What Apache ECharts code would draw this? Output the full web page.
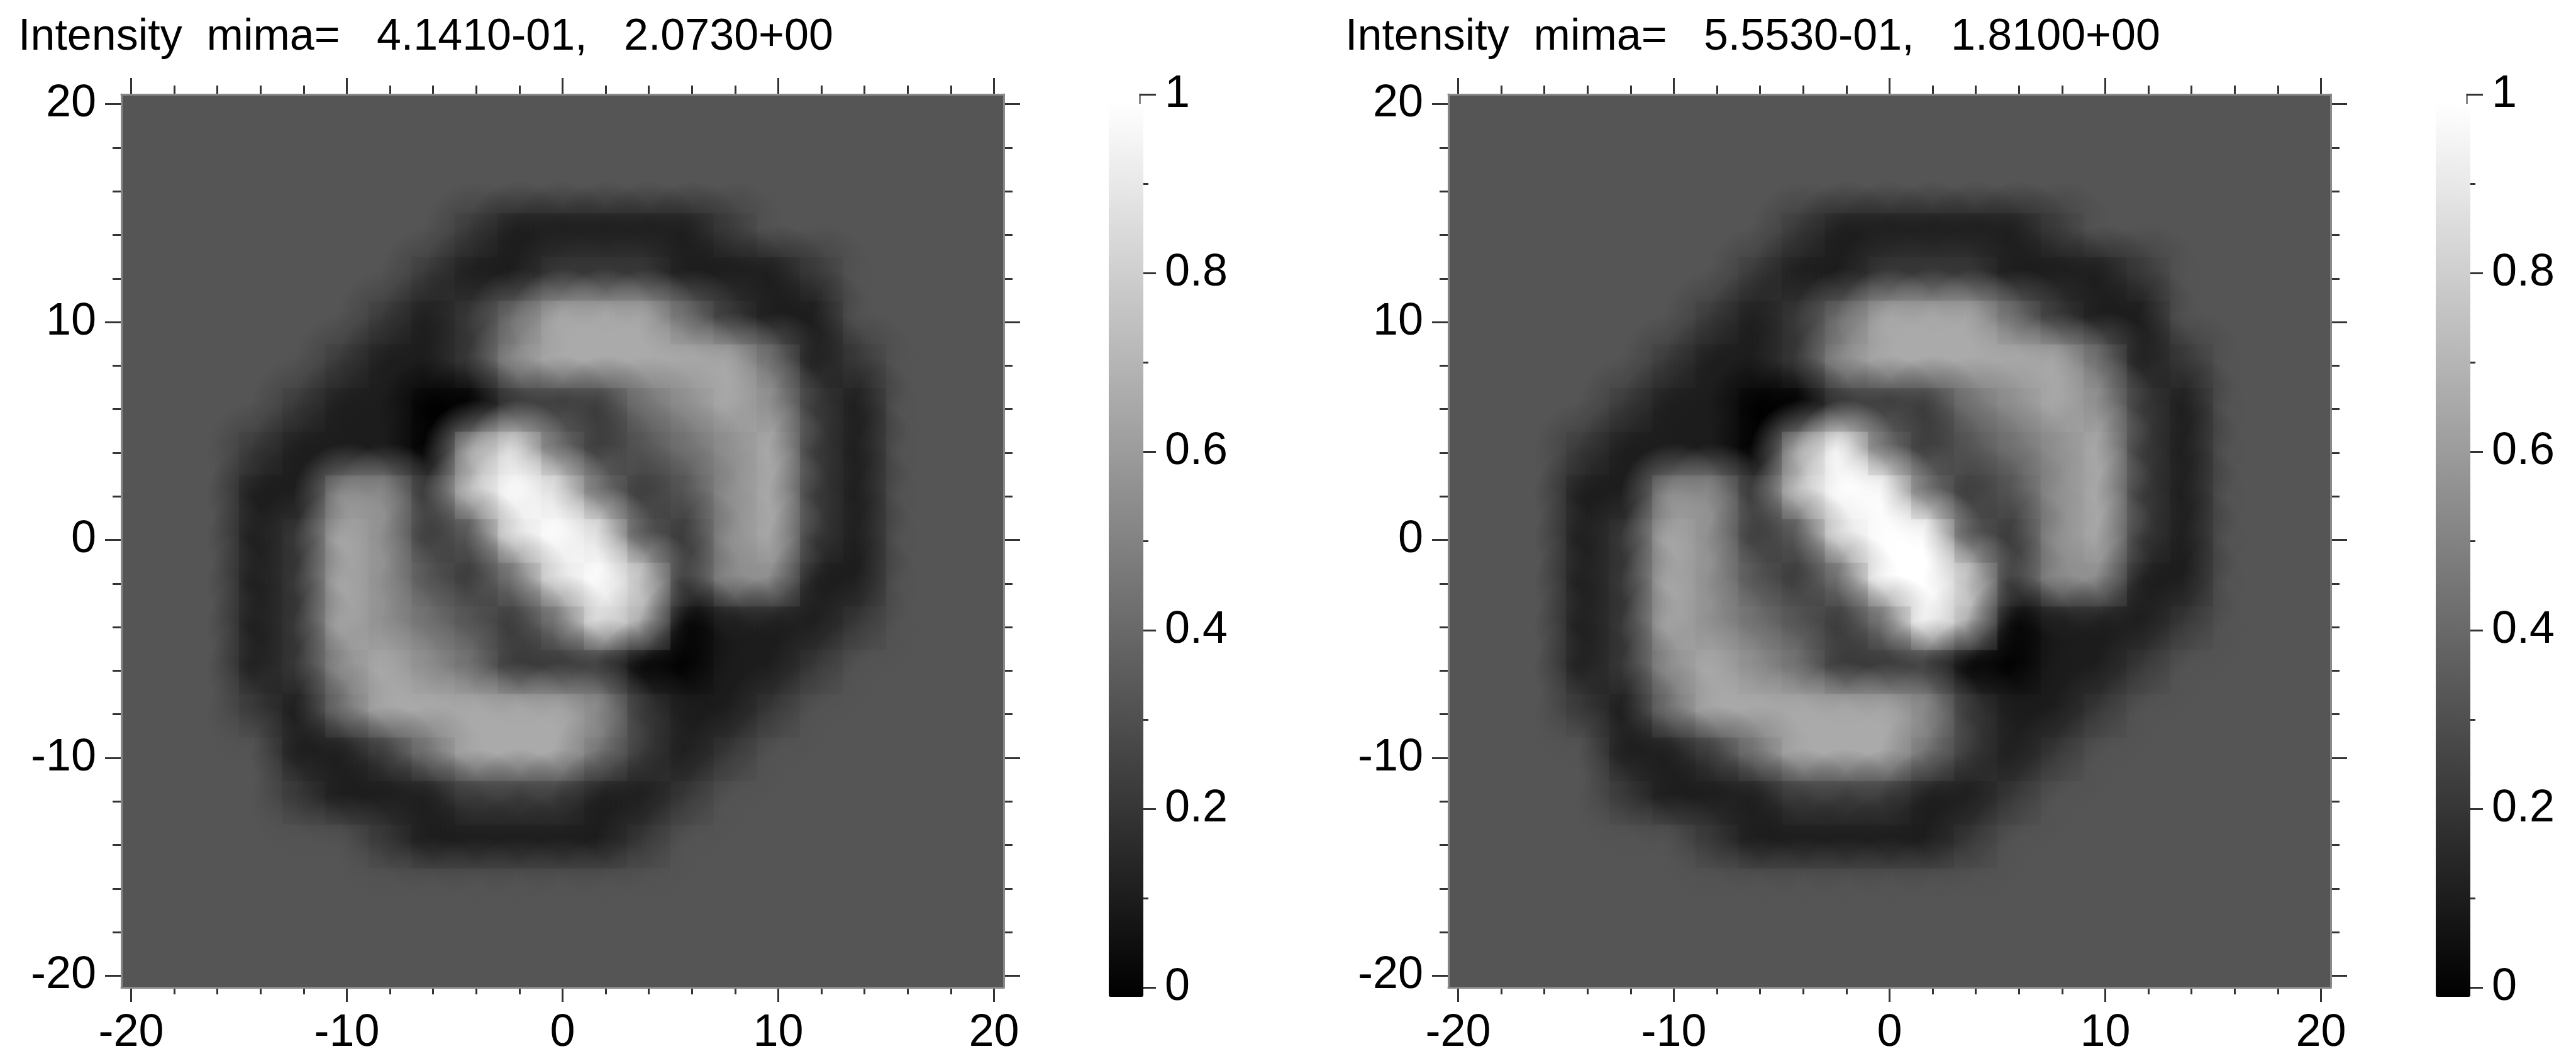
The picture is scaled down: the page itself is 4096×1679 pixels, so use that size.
<!DOCTYPE html>
<html><head><meta charset="utf-8">
<script src="https://cdn.jsdelivr.net/npm/echarts@6/dist/echarts.min.js"></script>
<style>html,body{margin:0;padding:0;background:#fff}#c{width:4096px;height:1679px}</style>
</head><body><div id="c"></div>
<script>
// grid sample positions (cell centres)
const xValues = [-20,-18,-16,-14,-12,-10,-8,-6,-4,-2,0,2,4,6,8,10,12,14,16,18,20];
const yValues = [20,18,16,14,12,10,8,6,4,2,0,-2,-4,-6,-8,-10,-12,-14,-16,-18,-20];
// intensity, one char per cell, value = digit/9 ; rows top (y=20) to bottom (y=-20)
const leftRows = [
"333333333333333333333",
"333333333333333333333",
"333333333333333333333",
"333333332111112333333",
"333333321122211123333",
"333333212466642113333",
"333332112566666412333",
"333321100222456521333",
"333211106842345621333",
"333115527984235621333",
"333126523898325621333",
"333126532489725511333",
"333126543248601112333",
"333125654222001123333",
"333214666665211233333",
"333311246664212333333",
"333321112221123333333",
"333333211111233333333",
"333333333333333333333",
"333333333333333333333",
"333333333333333333333"];
const rightRows = [
"333333333333333333333",
"333333333333333333333",
"333333333333333333333",
"333333332111112333333",
"333333321122211123333",
"333333212466642113333",
"333332112566666412333",
"333321100222456521333",
"333211106942345621333",
"333115527994235621333",
"333126523899325621333",
"333126532499725511333",
"333126543249601112333",
"333125654222001123333",
"333214666665211233333",
"333311246664212333333",
"333321112221123333333",
"333333211111233333333",
"333333333333333333333",
"333333333333333333333",
"333333333333333333333"];
const titles = ["Intensity  mima=   4.1410-01,   2.0730+00", "Intensity  mima=   5.5530-01,   1.8100+00"];

function toData(rows){
  const d=[];
  rows.forEach((r,j)=>{ for(let i=0;i<r.length;i++){ d.push([xValues[i], yValues[j], (+r[i])/9]); } });
  return d;
}
function withAlpha(c,a){
  if(c[0]==='#'){const h=c.slice(1);const n=h.length===3?h.split('').map(s=>parseInt(s+s,16)):[0,2,4].map(k=>parseInt(h.substr(k,2),16));return `rgba(${n[0]},${n[1]},${n[2]},${a})`;}
  const m=c.match(/\d+(\.\d+)?/g);
  return `rgba(${m[0]},${m[1]},${m[2]},${a})`;
}
const FONT='Liberation Sans';
const LBL=72, TTL=70;
const panelOff=[0,2110];
const G={left:193,top:150,w:1403,h:1420};
const EXT=20.45;
const grid=[], xAxis=[], yAxis=[], series=[], visualMap=[], title=[];
panelOff.forEach((off,p)=>{
  const gi=grid.length;
  grid.push({left:G.left+off, top:G.top, width:G.w, height:G.h});
  const line={show:true,onZero:false,lineStyle:{color:'#888',width:3}};
  const fr=(pos)=>({type:'value',gridIndex:gi,position:pos,min:-EXT,max:EXT,axisLine:line,axisTick:{show:false},axisLabel:{show:false},splitLine:{show:false},z:5});
  const base=xAxis.length;
  xAxis.push(fr('bottom')); xAxis.push(fr('top'));
  yAxis.push(fr('left')); yAxis.push(fr('right'));
  const sx=G.w/(2*EXT), sy=G.h/(2*EXT);
  const dx=(EXT-20)*sx, dy=(EXT-20)*sy;
  const ti=grid.length;
  grid.push({left:G.left+off+dx, top:G.top+dy, width:G.w-2*dx, height:G.h-2*dy});
  const tk=(pos,label,offv)=>({type:'value',gridIndex:ti,position:pos,offset:offv,min:-20,max:20,interval:10,
    axisLine:{show:false,onZero:false},
    axisTick:{show:true,inside:false,length:26,lineStyle:{color:'#333',width:3}},
    minorTick:{show:true,splitNumber:5,length:14,lineStyle:{color:'#333',width:3}},
    axisLabel:{show:label,fontSize:LBL,fontFamily:FONT,color:'#000',margin:label?40:8},
    splitLine:{show:false}});
  xAxis.push(tk('bottom',true,dy)); xAxis.push(tk('top',false,dy));
  yAxis.push(tk('left',true,dx)); yAxis.push(tk('right',false,dx));
  const data=toData(p===0?leftRows:rightRows);
  series.push({type:'custom',xAxisIndex:base,yAxisIndex:base,clip:true,silent:true,data,
    renderItem:(params,api)=>{
      const x=api.value(0),y=api.value(1);
      const a=api.coord([x-1,y+1]), b=api.coord([x+1,y-1]);
      return {type:'rect',shape:{x:a[0],y:a[1],width:b[0]-a[0]+1,height:b[1]-a[1]+1},style:{fill:api.visual('color')}};
    }});
  series.push({type:'custom',xAxisIndex:base,yAxisIndex:base,clip:true,silent:true,data,
    renderItem:(params,api)=>{
      const x=api.value(0),y=api.value(1);
      const c=api.coord([x,y]); const s=api.size([2,2]);
      const col=api.visual('color');
      const r=s[0]*1.25;
      return {type:'circle',shape:{cx:c[0],cy:c[1],r},style:{fill:{type:'radial',x:0.5,y:0.5,r:0.5,
        colorStops:[{offset:0,color:withAlpha(col,0.9)},{offset:0.4,color:withAlpha(col,0.55)},{offset:1,color:withAlpha(col,0)}]}}};
    }});
  visualMap.push({type:'continuous',seriesIndex:[p*2,p*2+1],dimension:2,min:0,max:1,calculable:false,hoverLink:false,
    inRange:{color:['#000000','#ffffff']},left:1748+off,top:G.top,itemWidth:55,itemHeight:G.h,text:null,showLabel:false,realtime:false});
  const ci=grid.length;
  grid.push({left:1811+off, top:G.top, width:1, height:G.h});
  xAxis.push({type:'value',gridIndex:ci,show:false});
  yAxis.push({type:'value',gridIndex:ci,position:'right',min:0,max:1,interval:0.2,
    axisLine:{show:true,onZero:false,lineStyle:{color:'#888',width:3}},
    axisTick:{show:true,length:26,lineStyle:{color:'#333',width:3}},
    minorTick:{show:true,splitNumber:2,length:14,lineStyle:{color:'#333',width:3}},
    axisLabel:{fontSize:LBL,fontFamily:FONT,color:'#000',margin:40},splitLine:{show:false}});
  title.push({text:titles[p],left:24+off,top:20,textStyle:{fontSize:TTL,fontWeight:'normal',fontFamily:FONT,color:'#000'}});
});
const chart=echarts.init(document.getElementById('c'),null,{renderer:'canvas'});
chart.setOption({animation:false,backgroundColor:'#fff',title,grid,xAxis,yAxis,series,visualMap});
</script></body></html>
